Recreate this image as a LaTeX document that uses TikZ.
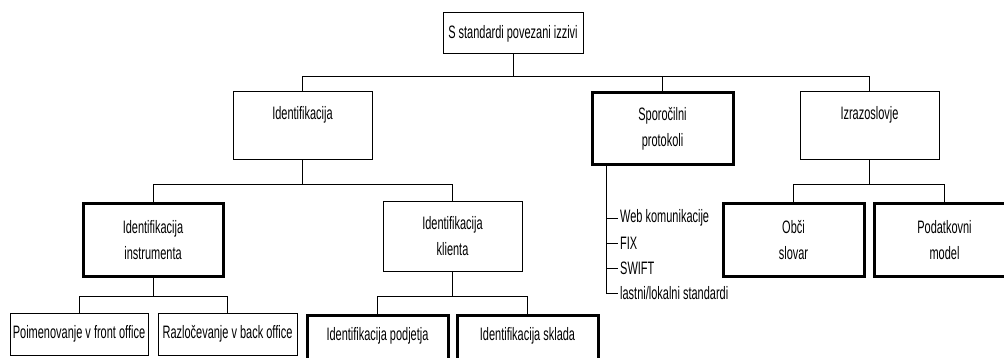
\documentclass[tikz,border=0pt]{standalone}
\usepackage{fontspec}
\setmainfont{Liberation Sans}[FakeStretch=0.61]
\begin{document}
\begin{tikzpicture}[x=1pt,y=-1pt,
  box/.style={draw, line width=1pt, fill=white, align=center, inner sep=0pt,
    font=\fontsize{18}{26}\selectfont},
  thickbox/.style={box, line width=3pt},
  wire/.style={draw, line width=0.9pt},
  item/.style={anchor=west, inner sep=2pt, font=\fontsize{18}{20}\selectfont},
]
\useasboundingbox (0,0) rectangle (1004,358);
\clip (0,0) rectangle (1004,358);

% top level
\node[box, minimum width=140, minimum height=41] (root) at (513,33.5) {S standardi povezani izzivi};

% second level
\node[box, minimum width=139, minimum height=68] (ident) at (302.5,126) {Identifikacija\\\mbox{}};
\node[thickbox, minimum width=141, minimum height=72] (spor) at (662.5,129) {Sporočilni\\protokoli};
\node[box, minimum width=139, minimum height=68] (izraz) at (869.5,126) {Izrazoslovje\\\mbox{}};

% third level
\node[thickbox, minimum width=140, minimum height=72] (instr) at (153,240) {Identifikacija\\instrumenta};
\node[box, minimum width=139, minimum height=69] (klient) at (452.5,236.5) {Identifikacija\\klienta};
\node[thickbox, minimum width=141, minimum height=72] (obci) at (793.5,240) {Obči\\slovar};
\node[thickbox, minimum width=141, minimum height=72] (podat) at (944.5,240) {Podatkovni\\model};

% fourth level
\node[box, minimum width=138, minimum height=42] (poim) at (79,334) {Poimenovanje v front office};
\node[box, minimum width=139, minimum height=42] (razl) at (227.5,334) {Razločevanje v back office};
\node[thickbox, minimum width=141, minimum height=50, text height=13, text depth=13] (podj) at (377.5,340.5) {Identifikacija podjetja};
\node[thickbox, minimum width=141, minimum height=50, text height=13, text depth=13] (sklad) at (527.5,340.5) {Identifikacija sklada};

% protocol list
\node[item] (web) at (618,218) {Web komunikacije};
\node[item] (fix) at (618,243) {FIX};
\node[item] (swift) at (618,268) {SWIFT};
\node[item] (lastni) at (618,293) {lastni/lokalni standardi};

% connectors
\draw[wire] (root.south) -- ++(0,22) coordinate (b1);
\draw[wire] (b1) -| (ident.north);
\draw[wire] (b1) -| (spor.north);
\draw[wire] (b1) -| (izraz.north);

\draw[wire] (ident.south) -- ++(0,24) coordinate (b2);
\draw[wire] (b2) -| (instr.north);
\draw[wire] (b2) -| (klient.north);

\draw[wire] (instr.south) -- ++(0,19) coordinate (b3);
\draw[wire] (b3) -| (poim.north);
\draw[wire] (b3) -| (razl.north);

\draw[wire] (klient.south) -- ++(0,25) coordinate (b4);
\draw[wire] (b4) -| (podj.north);
\draw[wire] (b4) -| (sklad.north);

\draw[wire] (izraz.south) -- ++(0,24) coordinate (b5);
\draw[wire] (b5) -| (obci.north);
\draw[wire] (b5) -| (podat.north);

\coordinate (lst) at ([xshift=16pt]spor.south west);
\draw[wire] (lst) |- (web.west);
\draw[wire] (lst) |- (fix.west);
\draw[wire] (lst) |- (swift.west);
\draw[wire] (lst) |- (lastni.west);
\end{tikzpicture}
\end{document}
